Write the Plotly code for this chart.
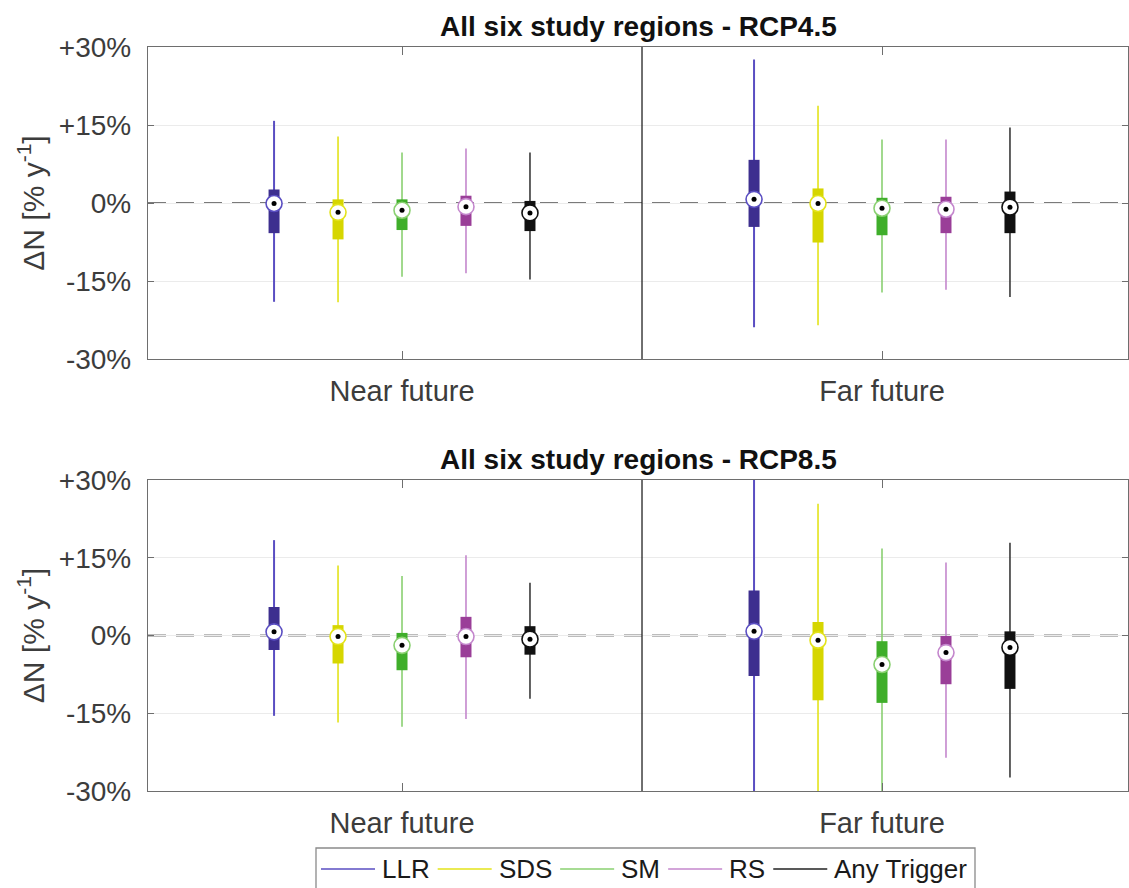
import plotly.graph_objects as go

series = ["LLR", "SDS", "SM", "RS", "Any Trigger"]
periods = ["Near future", "Far future"]
titles = ["All six study regions - RCP4.5", "All six study regions - RCP8.5"]
y_ticks = [-30, -15, 0, 15, 30]
y_tick_text = ["-30%", "-15%", "0%", "+15%", "+30%"]

box_colors = ["#3d2f8f", "#d6d600", "#3fae2a", "#9a3e98", "#111111"]
whisker_colors = ["#5a4ec2", "#e3e31a", "#8ad071", "#c487cd", "#3a3a3a"]

# RCP4.5: [near future, far future] per series
rcp45_lo = [[-19.0, -19.1, -14.2, -13.5, -14.7], [-23.9, -23.5, -17.2, -16.7, -18.1]]
rcp45_q1 = [[-5.8, -7.0, -5.2, -4.4, -5.4], [-4.6, -7.6, -6.2, -5.8, -5.8]]
rcp45_med = [[-0.1, -1.8, -1.4, -0.7, -1.9], [0.7, -0.1, -1.0, -1.2, -0.8]]
rcp45_q3 = [[2.6, 0.7, 0.7, 1.4, 0.4], [8.3, 2.8, 1.0, 1.2, 2.2]]
rcp45_hi = [[15.8, 12.8, 9.7, 10.5, 9.7], [27.6, 18.7, 12.2, 12.2, 14.5]]

# RCP8.5: [near future, far future] per series
rcp85_lo = [[-15.5, -16.8, -17.6, -16.1, -12.2], [-32.0, -32.0, -32.0, -23.6, -27.4]]
rcp85_q1 = [[-2.8, -5.4, -6.7, -4.2, -3.7], [-7.8, -12.5, -13.0, -9.4, -10.3]]
rcp85_med = [[0.7, -0.2, -1.9, -0.2, -0.7], [0.8, -0.9, -5.6, -3.3, -2.3]]
rcp85_q3 = [[5.5, 2.0, 0.5, 3.6, 1.8], [8.7, 2.6, -1.1, -0.1, 0.8]]
rcp85_hi = [[18.4, 13.5, 11.5, 15.5, 10.2], [32.0, 25.4, 16.8, 14.1, 17.9]]

panels = [
    (rcp45_lo, rcp45_q1, rcp45_med, rcp45_q3, rcp45_hi),
    (rcp85_lo, rcp85_q1, rcp85_med, rcp85_q3, rcp85_hi),
]

W, H = 1129, 888
offset = 0.1333
x_range = [0.4708, 2.5125]
font_family = "Liberation Sans, Arial, Helvetica, sans-serif"
text_color = "#3c3c3c"

fig = go.Figure()

for p, (lo, q1, med, q3, hi) in enumerate(panels):
    xa = "x" if p == 0 else "x2"
    ya = "y" if p == 0 else "y2"
    for k in range(len(periods)):
        for i in range(len(series)):
            xc = (k + 1) + offset * (i - 2)
            fig.add_trace(go.Scatter(
                x=[xc, xc], y=[lo[k][i], hi[k][i]], mode="lines",
                line=dict(color=whisker_colors[i], width=2 if i == 0 else 1.6),
                xaxis=xa, yaxis=ya, showlegend=False, hoverinfo="skip"))
            fig.add_trace(go.Scatter(
                x=[xc, xc], y=[q1[k][i], q3[k][i]], mode="lines",
                line=dict(color=box_colors[i], width=11),
                xaxis=xa, yaxis=ya, showlegend=False, hoverinfo="skip"))
            fig.add_trace(go.Scatter(
                x=[xc], y=[med[k][i]], mode="markers",
                marker=dict(size=16, color="white",
                            line=dict(color=whisker_colors[i] if i < 4 else "#111111", width=1.6)),
                xaxis=xa, yaxis=ya, showlegend=False, hoverinfo="skip"))
            fig.add_trace(go.Scatter(
                x=[xc], y=[med[k][i]], mode="markers",
                marker=dict(size=5, color="black"),
                xaxis=xa, yaxis=ya, showlegend=False, hoverinfo="skip"))

x0 = 148 / W
x1 = 1128 / W
top_dom = [1 - 359 / H, 1 - 47 / H]
bot_dom = [1 - 791 / H, 1 - 480 / H]

axis_line = "#6e6e6e"
common_x = dict(
    range=x_range, domain=[x0, x1], tickvals=[1, 2], ticktext=periods,
    ticks="inside", ticklen=8, tickcolor=axis_line, showline=True, mirror="ticks",
    linecolor=axis_line, linewidth=1.3, showgrid=False, zeroline=False,
    tickfont=dict(size=29, color=text_color, family=font_family),
    ticklabelstandoff=6, fixedrange=True,
)
common_y = dict(
    range=[-30, 30], tickvals=y_ticks, ticktext=y_tick_text,
    ticks="inside", ticklen=6, tickcolor=axis_line, showline=True, mirror="ticks",
    linecolor=axis_line, linewidth=1.3, showgrid=True, gridcolor="#ebebeb",
    gridwidth=1, zeroline=False,
    tickfont=dict(size=28, color=text_color, family=font_family),
    ticklabelstandoff=10, fixedrange=True,
    title=dict(text="ΔN [% y<sup>-1</sup>]", font=dict(size=30, color=text_color, family=font_family),
               standoff=5),
)

fig.update_layout(
    width=W, height=H,
    margin=dict(l=0, r=0, t=0, b=0, autoexpand=False),
    paper_bgcolor="white", plot_bgcolor="white",
    xaxis=dict(common_x, anchor="y"),
    yaxis=dict(common_y, domain=top_dom, anchor="x"),
    xaxis2=dict(common_x, anchor="y2"),
    yaxis2=dict(common_y, domain=bot_dom, anchor="x2"),
    showlegend=False,
)

shapes = []
for ya, xa in (("y", "x"), ("y2", "x2")):
    shapes.append(dict(type="line", xref=xa, yref=ya, x0=x_range[0], x1=x_range[1], y0=0, y1=0,
                       line=dict(color="#7a7a7a", width=1.8, dash="18px,10px"), layer="below"))
    shapes.append(dict(type="line", xref=xa, yref=ya, x0=1.5, x1=1.5, y0=-30, y1=30,
                       line=dict(color="#222222", width=1.3), layer="above"))

for p, t in enumerate(titles):
    ytop = top_dom[1] if p == 0 else bot_dom[1]
    fig.add_annotation(text="<b>" + t + "</b>", xref="paper", yref="paper",
                       x=(x0 + x1) / 2, y=ytop + 3 / H, xanchor="center", yanchor="bottom",
                       showarrow=False, font=dict(size=28, color="#111111", family=font_family))

# ---- legend drawn as a boxed row (line sample + label) ----
char_w = {"L": 0.556, "R": 0.722, "S": 0.667, "D": 0.722, "M": 0.833, "A": 0.667,
          "n": 0.556, "y": 0.5, " ": 0.278, "T": 0.611, "r": 0.333, "i": 0.222,
          "g": 0.556, "e": 0.556}
leg_font = 26
leg_left, leg_right = 316, 975
leg_top, leg_mid = 848, 869
sample_len, gap_after_line, gap_after_text = 54, 5, 10
shapes.append(dict(type="rect", xref="paper", yref="paper",
                   x0=leg_left / W, x1=leg_right / W, y0=1 - 905 / H, y1=1 - leg_top / H,
                   line=dict(color="#8a8a8a", width=1.3), fillcolor="white", layer="above"))
cur = leg_left + 5
for i, name in enumerate(series):
    lc = whisker_colors[i] if i < 4 else "#222222"
    shapes.append(dict(type="line", xref="paper", yref="paper",
                       x0=cur / W, x1=(cur + sample_len) / W,
                       y0=1 - leg_mid / H, y1=1 - leg_mid / H,
                       line=dict(color=lc, width=1.6), layer="above"))
    tx = cur + sample_len + gap_after_line
    fig.add_annotation(text=name, xref="paper", yref="paper", x=tx / W, y=1 - leg_mid / H,
                       xanchor="left", yanchor="middle", showarrow=False,
                       font=dict(size=leg_font, color="#1a1a1a", family=font_family))
    tw = sum(char_w.get(c, 0.55) for c in name) * leg_font
    cur = tx + tw + gap_after_text

fig.update_layout(shapes=shapes)

fig.write_html("out.html")
